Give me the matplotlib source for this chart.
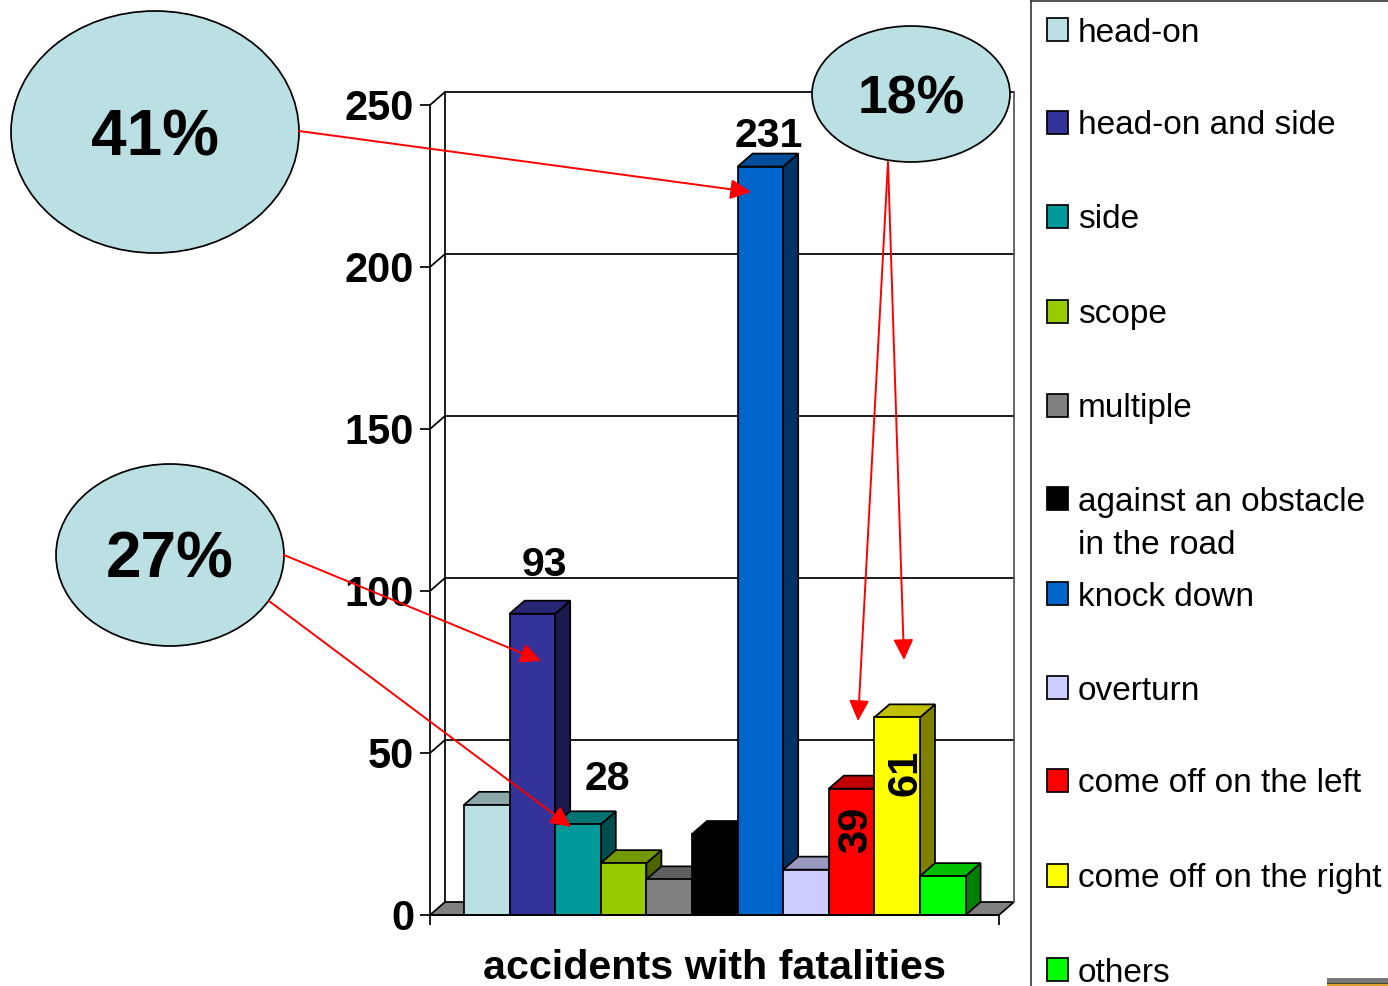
import matplotlib
matplotlib.use("Agg")
import matplotlib.pyplot as plt
from matplotlib.patches import Ellipse, Polygon, Rectangle, FancyArrowPatch

W, H = 1388, 986

categories = ["head-on", "head-on and side", "side", "scope", "multiple",
              "against an obstacle\nin the road", "knock down", "overturn",
              "come off on the left", "come off on the right", "others"]
values = [34, 93, 28, 16, 11, 25, 231, 14, 39, 61, 12]
front_colors = ["#BBE0E3", "#333399", "#009999", "#99CC00", "#808080", "#000000",
                "#0066CC", "#CCCCFF", "#FF0000", "#FFFF00", "#00FF00"]
top_colors = ["#8CA8AA", "#262673", "#007373", "#739900", "#606060", "#000000",
              "#004D99", "#9999BF", "#BF0000", "#BFBF00", "#00BF00"]
side_colors = ["#5E7072", "#1A1A4D", "#004D4D", "#4D6600", "#404040", "#000000",
               "#003366", "#666680", "#800000", "#808000", "#008000"]
y_ticks = [0, 50, 100, 150, 200, 250]
value_labels = {1: "93", 2: "28", 6: "231"}
rotated_labels = {8: "39", 9: "61"}
x_title = "accidents with fatalities"
bubble_labels = ["41%", "27%", "18%"]

FONT = ["Liberation Sans"]

fig = plt.figure(figsize=(W / 100, H / 100), dpi=100, facecolor="white")

# Front plane of the 3-D box: pixel extents of the value axis
left_px, right_px, base_px, top_px = 430, 999, 915, 105
ax = fig.add_axes([left_px / W, 1 - base_px / H, (right_px - left_px) / W, (base_px - top_px) / H])
ax.patch.set_alpha(0)

px_per_cat = 45.6
first_left_px = 464
x0 = -0.5 - (first_left_px - left_px) / px_per_cat
ax.set_xlim(x0, x0 + (right_px - left_px) / px_per_cat)
ax.set_ylim(0, 250)

depth_x = 15 / px_per_cat
depth_y = 13 / ((base_px - top_px) / 250)
xa, xb = ax.get_xlim()
LW = 1.25

# Floor and back wall
ax.add_patch(Polygon([(xa, 0), (xa + depth_x, depth_y), (xb + depth_x, depth_y), (xb, 0)],
                     closed=True, fc="#808080", ec="black", lw=LW, clip_on=False, zorder=1))
for t in y_ticks[1:]:
    ax.plot([xa, xa + depth_x, xb + depth_x], [t, t + depth_y, t + depth_y],
            color="black", lw=LW, clip_on=False, zorder=1.5)
ax.plot([xa + depth_x] * 2, [depth_y, 250 + depth_y], color="black", lw=LW, clip_on=False, zorder=1.5)
ax.plot([xb + depth_x] * 2, [depth_y, 250 + depth_y], color="#555555", lw=LW, clip_on=False, zorder=1.5)

# Bars, each drawn as front, top and side faces
for i, v in enumerate(values):
    l, r = i - 0.5, i + 0.5
    z = 2 + i * 0.1
    ax.add_patch(Polygon([(r, 0), (r + depth_x, depth_y), (r + depth_x, v + depth_y), (r, v)],
                         closed=True, fc=side_colors[i], ec="black", lw=LW, zorder=z, clip_on=False))
    ax.add_patch(Polygon([(l, v), (l + depth_x, v + depth_y), (r + depth_x, v + depth_y), (r, v)],
                         closed=True, fc=top_colors[i], ec="black", lw=LW, zorder=z, clip_on=False))
    ax.add_patch(Rectangle((l, 0), 1, v, fc=front_colors[i], ec="black", lw=LW, zorder=z + 0.01, clip_on=False))

for s in ("top", "right"):
    ax.spines[s].set_visible(False)
for s in ("left", "bottom"):
    ax.spines[s].set_linewidth(LW)
    ax.spines[s].set_zorder(5)
ax.set_yticks(y_ticks)
ax.set_xticks([xa, xb])
ax.set_xticklabels(["", ""])
ax.tick_params(axis="y", length=7.5, width=LW, pad=4)
ax.tick_params(axis="x", length=7.5, width=LW)
for lab in ax.get_yticklabels():
    lab.set_fontfamily(FONT)
    lab.set_fontweight("bold")
    lab.set_fontsize(30)
ax.text(0.5, -0.0415, x_title, transform=ax.transAxes, ha="center", va="top",
        family=FONT, fontweight="bold", fontsize=29.7)

# Value labels above or inside their bars
label_offsets = {1: (12, 30), 2: (29, 26), 6: (8, 12)}
for i, txt in value_labels.items():
    ax.annotate(txt, (i, values[i]), xytext=label_offsets[i], textcoords="offset pixels",
                ha="center", va="bottom", family=FONT, fontweight="bold", fontsize=29.5, zorder=10)
rotated_offsets = {8: (4, -41), 9: (8, -56)}
for i, txt in rotated_labels.items():
    ax.annotate(txt, (i, values[i]), xytext=rotated_offsets[i], textcoords="offset pixels",
                ha="center", va="center", rotation=90, family=FONT, fontweight="bold",
                fontsize=30, zorder=10)

# Overlay in pixel coordinates: callouts, arrows and legend
ov = fig.add_axes([0, 0, 1, 1], zorder=5)
ov.set_xlim(0, W)
ov.set_ylim(H, 0)
ov.axis("off")

bubbles = [(155, 132, 144, 121, 46), (170, 555, 114, 91, 46), (911, 94, 99, 68, 38.5)]
for (cx, cy, rx, ry, fs), txt in zip(bubbles, bubble_labels):
    ov.add_patch(Ellipse((cx, cy), 2 * rx, 2 * ry, fc="#BBE0E3", ec="black", lw=LW, zorder=3))
    ov.text(cx, cy + 6, txt, ha="center", va="center", family=FONT, fontweight="bold",
            fontsize=fs, zorder=4)

arrows = [((299, 131), (751, 192)), ((284, 555), (541, 661)), ((269, 601), (571, 827)),
          ((888, 162), (858, 721)), ((888, 162), (904, 660))]
for a, b in arrows:
    ov.add_patch(FancyArrowPatch(a, b, arrowstyle="-|>,head_length=0.7,head_width=0.34",
                                 mutation_scale=18, color="red", lw=1.4,
                                 shrinkA=0, shrinkB=0, zorder=6))

# Legend panel
ov.plot([1031, 1031], [0, H], color="#333333", lw=1.2, zorder=2)
ov.plot([1031, W], [0.5, 0.5], color="#333333", lw=1.2, zorder=2)
legend_y = [29, 122, 216, 311, 405, 498, 593, 687, 780, 875, 969]
for y, c, name in zip(legend_y, front_colors, categories):
    ov.add_patch(Rectangle((1047, y - 11), 21.5, 23, fc=c, ec="black", lw=LW, zorder=3))
    ov.text(1078, y + 4, name.split("\n")[0], ha="left", va="center", family=FONT,
            fontsize=24, zorder=4)
    if "\n" in name:
        ov.text(1078, y + 48, name.split("\n")[1], ha="left", va="center", family=FONT,
                fontsize=24, zorder=4)

# Fragment of a rule at the lower right edge
ov.add_patch(Rectangle((1327, 978), 61, 5, fc="#777777", ec="none", zorder=2))
ov.add_patch(Rectangle((1327, 983), 61, 1, fc="#444422", ec="none", zorder=2))
ov.add_patch(Rectangle((1327, 984), 61, 2, fc="#E0A030", ec="none", zorder=2))

fig.savefig("out.png", dpi=100)
